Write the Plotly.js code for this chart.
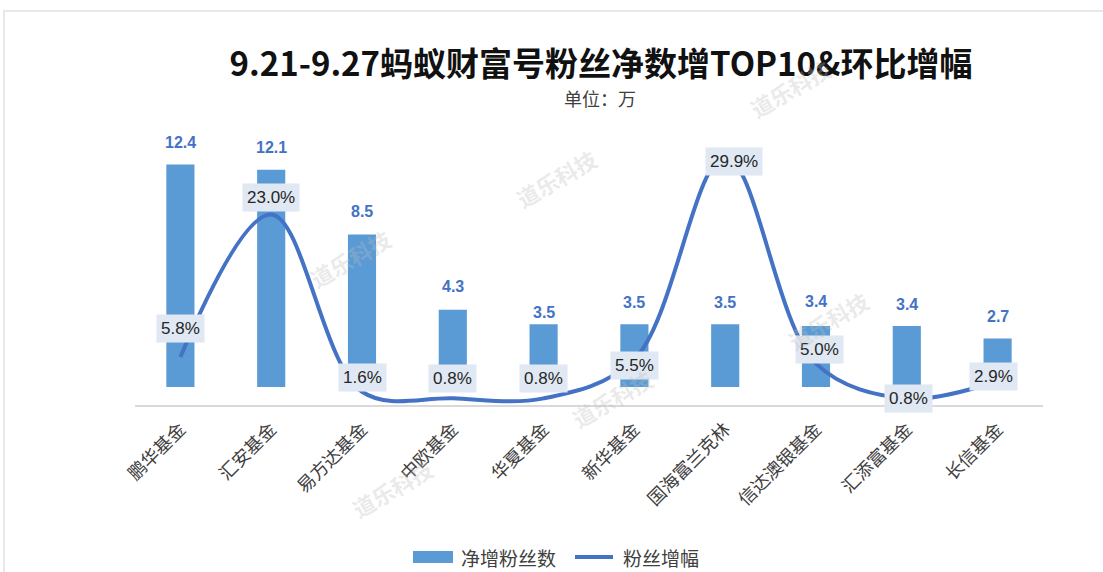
<!DOCTYPE html>
<html>
<head>
<meta charset="utf-8">
<script src="https://cdn.plot.ly/plotly-3.0.1.min.js"></script>
<style>
html,body{margin:0;padding:0;background:#fff;overflow:hidden;}
#frame{position:absolute;left:3px;top:10px;width:1200px;height:700px;border:2px solid #e8e8e8;box-sizing:border-box;}
#chart{position:absolute;left:0;top:0;width:1103px;height:572px;}
</style>
</head>
<body>
<div id="frame"></div>
<div id="chart"></div>
<script>
// ---- data ----
const categories = ["鹏华基金","汇安基金","易方达基金","中欧基金","华夏基金","新华基金","国海富兰克林","信达澳银基金","汇添富基金","长信基金"];
const netFans = [12.4, 12.1, 8.5, 4.3, 3.5, 3.5, 3.5, 3.4, 3.4, 2.7];
const growthPct = [5.8, 23.0, 1.6, 0.8, 0.8, 5.5, 29.9, 5.0, 0.8, 2.9];
const seriesNames = ["净增粉丝数", "粉丝增幅"];
const titleText = "9.21-9.27蚂蚁财富号粉丝净数增TOP10&环比增幅";
const subtitleText = "单位：万";
const watermark = "道乐科技";

// ---- label placement (styling only) ----
const barLabelShift = [22, 22, 23, 23, 12, 22, 22, 25, 22, 22];
const lineLabelShift = [28, 17, 14, 20, 20, -6, -4, 14, 0, 4];
const lineLabelXShift = [0, 0, 0, 0, 0, 0, 9, 3, 2, -4];

const barColor = '#5b9bd5', lineColor = '#4472c4';
const L = 135, R = 1043, T = 125, B = 405;
const px = x => (x - L) / (R - L);
const py = y => (B - y) / (B - T);

const barTrace = {
  type: 'bar', name: seriesNames[0], x: categories, y: netFans,
  marker: {color: barColor}, width: 0.31, yaxis: 'y', hoverinfo: 'skip'
};
const lineTrace = {
  type: 'scatter', mode: 'lines', name: seriesNames[1], x: categories, y: growthPct,
  line: {color: lineColor, width: 4, shape: 'spline', smoothing: 1}, yaxis: 'y2', hoverinfo: 'skip'
};

const annotations = [];
categories.forEach((c, i) => {
  annotations.push({
    x: c, y: netFans[i], xref: 'x', yref: 'y', text: '<b>' + netFans[i].toFixed(1) + '</b>',
    showarrow: false, yanchor: 'middle', yshift: barLabelShift[i],
    font: {family: 'Liberation Sans, Arial, sans-serif', size: 16, color: lineColor}
  });
  annotations.push({
    x: c, y: growthPct[i], xref: 'x', yref: 'y2', text: growthPct[i].toFixed(1) + '%',
    showarrow: false, yanchor: 'middle', yshift: lineLabelShift[i], xshift: lineLabelXShift[i],
    bgcolor: '#dfe8f3', borderpad: 4,
    font: {family: 'Liberation Sans, Arial, sans-serif', size: 17, color: '#262626'}
  });
});
// subtitle
annotations.push({
  xref: 'paper', yref: 'paper', x: px(600), y: py(98),
  text: subtitleText, showarrow: false, xanchor: 'center', yanchor: 'middle',
  font: {family: 'Noto Sans CJK SC, sans-serif', size: 18, color: '#404040'}
});
// watermarks
const wmPos = [[556, 178], [350, 258], [828, 320], [612, 398], [392, 488], [790, 88]];
wmPos.forEach(p => {
  annotations.push({
    xref: 'paper', yref: 'paper', x: px(p[0]), y: py(p[1]),
    text: '<b>' + watermark + '</b>', showarrow: false, textangle: -30,
    xanchor: 'center', yanchor: 'middle',
    font: {family: 'Noto Sans CJK SC, sans-serif', size: 22, color: 'rgba(190,190,190,0.33)'}
  });
});
// manual legend
const legendFont = {family: 'Noto Sans CJK SC, sans-serif', size: 19, color: '#404040'};
annotations.push({xref: 'paper', yref: 'paper', x: px(459), y: py(557), text: seriesNames[0],
  showarrow: false, xanchor: 'left', yanchor: 'middle', font: legendFont});
annotations.push({xref: 'paper', yref: 'paper', x: px(621), y: py(557), text: seriesNames[1],
  showarrow: false, xanchor: 'left', yanchor: 'middle', font: legendFont});
const shapes = [
  {type: 'rect', xref: 'paper', yref: 'paper', x0: px(413), x1: px(453), y0: py(551), y1: py(563),
   fillcolor: barColor, line: {width: 0}},
  {type: 'line', xref: 'paper', yref: 'paper', x0: px(575), x1: px(613), y0: py(557), y1: py(557),
   line: {color: lineColor, width: 4}}
];

const layout = {
  width: 1103, height: 572,
  margin: {l: L, r: 1103 - R, t: T, b: 572 - B},
  paper_bgcolor: 'rgba(0,0,0,0)', plot_bgcolor: 'rgba(0,0,0,0)',
  title: {
    text: '<b>' + titleText + '</b>',
    x: 601 / 1103, xanchor: 'center', y: 1 - 64 / 572, yanchor: 'middle',
    font: {family: 'Noto Sans CJK SC, sans-serif', size: 33, color: '#111'}
  },
  showlegend: false,
  xaxis: {
    type: 'category', showline: true, linecolor: '#d9d9d9', linewidth: 1.5,
    showgrid: false, zeroline: false, ticks: '', tickangle: -45, ticklabelstandoff: 5,
    tickfont: {family: 'Noto Sans CJK SC, sans-serif', size: 18, color: '#404040'},
    fixedrange: true
  },
  yaxis: {range: [-1, 14.6], visible: false, fixedrange: true},
  yaxis2: {range: [0, 33.8], overlaying: 'y', side: 'right', visible: false, fixedrange: true},
  annotations: annotations,
  shapes: shapes
};

Plotly.newPlot('chart', [barTrace, lineTrace], layout, {displayModeBar: false, staticPlot: true});
</script>
</body>
</html>
